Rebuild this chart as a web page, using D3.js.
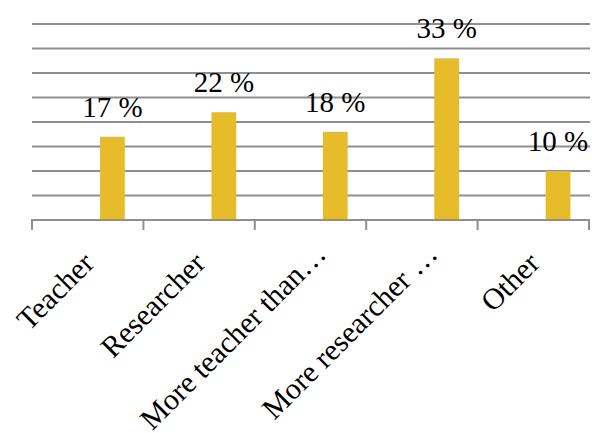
<!DOCTYPE html>
<html>
<head>
<meta charset="utf-8">
<script src="https://cdn.jsdelivr.net/npm/d3@7"></script>
<style>
  html, body { margin: 0; padding: 0; background: #fff; }
  svg { display: block; }
  text { font-family: "Liberation Serif", "DejaVu Serif", serif; fill: #000; }
</style>
</head>
<body>
<svg id="chart" width="592" height="433"></svg>
<script>
// Role shares (percent)
const categories = ["Teacher", "Researcher", "More teacher than\u2026", "More researcher \u2026", "Other"];
const values = [17, 22, 18, 33, 10];
const yTicks = [0, 5, 10, 15, 20, 25, 30, 35, 40];

const plot = { left: 32, right: 589, top: 24, bottom: 220 };

const svg = d3.select("#chart");

const x = d3.scaleBand().domain(categories).range([plot.left, plot.right]).padding(0);
const y = d3.scaleLinear().domain([0, 40]).range([plot.bottom, plot.top]);

// clustered-column layout: three slots per category with a 150% gap, bar sits in the last slot
const slots = 3, gapWidth = 1.5;
const slot = x.bandwidth() / (slots + gapWidth);
const inner = d3.scaleBand().domain(d3.range(slots))
  .range([slot * gapWidth / 2, x.bandwidth() - slot * gapWidth / 2]);
const barSlot = 2;

// horizontal gridlines
svg.append("g")
  .selectAll("line")
  .data(yTicks.filter(t => t > 0))
  .join("line")
  .attr("x1", plot.left)
  .attr("x2", plot.right + 1)
  .attr("y1", d => y(d))
  .attr("y2", d => y(d))
  .attr("stroke", "#8f8f8f")
  .attr("stroke-width", 2);

// bars
svg.append("g")
  .selectAll("rect")
  .data(values)
  .join("rect")
  .attr("x", (d, i) => x(categories[i]) + inner(barSlot))
  .attr("width", inner.bandwidth())
  .attr("y", d => y(d))
  .attr("height", d => y(0) - y(d))
  .attr("fill", "#e6bc2a");

// category axis with ticks on band boundaries
const axis = svg.append("g");
axis.append("line")
  .attr("x1", plot.left - 1)
  .attr("x2", plot.right + 1)
  .attr("y1", y(0))
  .attr("y2", y(0))
  .attr("stroke", "#8f8f8f")
  .attr("stroke-width", 2);
const bounds = categories.map(c => x(c)).concat([x(categories[categories.length - 1]) + x.bandwidth()]);
axis.selectAll("line.tick")
  .data(bounds)
  .join("line")
  .attr("class", "tick")
  .attr("x1", d => d)
  .attr("x2", d => d)
  .attr("y1", y(0))
  .attr("y2", y(0) + 10)
  .attr("stroke", "#8f8f8f")
  .attr("stroke-width", 2);

// rotated category labels; a truncating ellipsis hangs past the anchor point
axis.selectAll("text")
  .data(categories)
  .join("text")
  .attr("text-anchor", "end")
  .attr("font-size", 30)
  .attr("dx", d => d.endsWith("\u2026") ? 13 : 0)
  .attr("transform", d => `translate(${x(d) + x.bandwidth() / 2 + 8},${y(0) + 45}) rotate(-45)`)
  .text(d => d);

// value labels above bars
svg.append("g")
  .selectAll("text")
  .data(values)
  .join("text")
  .attr("text-anchor", "middle")
  .attr("font-size", 29)
  .attr("x", (d, i) => x(categories[i]) + inner(barSlot) + inner.bandwidth() / 2)
  .attr("y", d => y(d) - 20)
  .text(d => `${d} %`);
</script>
</body>
</html>
